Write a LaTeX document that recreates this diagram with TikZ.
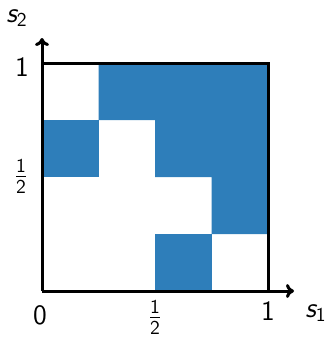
\documentclass[tikz,border=0pt]{standalone}
\usepackage{fontspec}
\usetikzlibrary{arrows.meta}
\definecolor{cellblue}{RGB}{46,126,186}
\begin{document}
\begin{tikzpicture}[x=0.5pt,y=-0.5pt,
  axis/.style={line width=1.5pt,-{To[length=4pt,width=7pt]}},
  frame/.style={line width=1.5pt},
  cell/.style={fill=cellblue,draw=none},
  lab/.style={font=\fontsize{14}{16}\selectfont\sffamily,inner sep=0pt}]
\useasboundingbox (0,0) rectangle (327,337);
% cells
\fill[cell] (98.5,63) -- (268,63) -- (268,234) -- (211.5,234) -- (211.5,177) -- (155,177) -- (155,120) -- (98.5,120) -- cycle;
\fill[cell] (42,120) rectangle (98.5,177);
\fill[cell] (155,234) rectangle (211.5,291);
% frame
\coordinate (o) at (42,291);
\coordinate (tl) at (42,63);
\coordinate (tr) at (268,63);
\coordinate (br) at (268,291);
\coordinate (xend) at (294,291);
\coordinate (yend) at (42,38);
\draw[frame] (tl) -- (tr) -- (br);
\draw[axis] (o) -- (xend);
\draw[axis] (o) -- (yend);
% labels
\node[lab] (l0) at (40,315) {0};
\node[lab] (lxh) at (155,317) {$\frac{\mathsf{1}}{\mathsf{2}}$};
\node[lab] (lx1) at (268,311) {1};
\node[lab] (s1) at (316,313) {\itshape s$_{\mathsf{1}}$};
\node[lab] (ly1) at (22,67) {1};
\node[lab] (lyh) at (21,176) {$\frac{\mathsf{1}}{\mathsf{2}}$};
\node[lab] (s2) at (17,18) {\itshape s$_{\mathsf{2}}$};
\end{tikzpicture}
\end{document}
